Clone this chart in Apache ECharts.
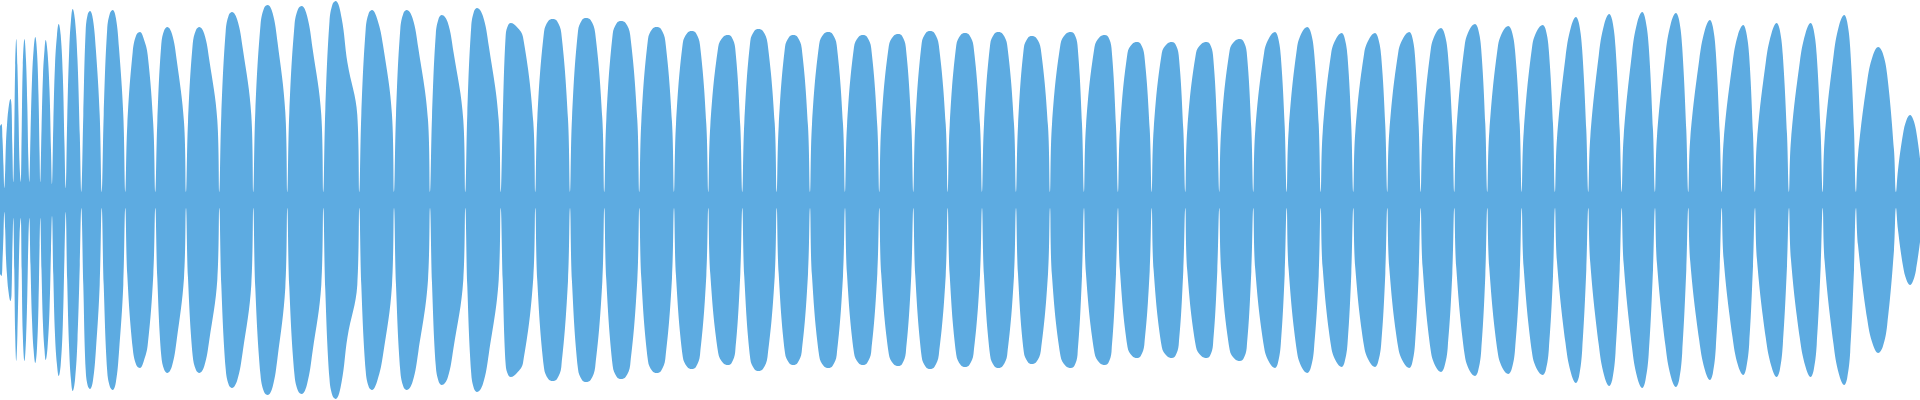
<!DOCTYPE html>
<html>
<head>
<meta charset="utf-8">
<script src="https://cdn.jsdelivr.net/npm/echarts@6/dist/echarts.min.js"></script>
<style>
html,body{margin:0;padding:0;background:#fff;}
#chart{width:1920px;height:400px;}
</style>
</head>
<body>
<div id="chart"></div>
<script>
// sample position (time index) of each envelope point
const sampleX = [
  0,1.5,2.5,3.5,
  4.3,5.2,6,7,8.3,10.5,11.5,12.3,
  13.3,14.3,15.2,16.3,17.4,18.5,19.6,
  20.7,21.7,22.8,24.5,26,27.3,28.4,
  29.3,30.5,32,33.6,35.3,37,38.5,39.6,
  40.3,41.5,43,44.5,45.7,47.5,49.5,51,
  52,53.3,55,57,58.7,60.7,62.8,64.5,
  65.7,67.2,69.2,71,72.7,75,77.5,79.8,
  81.3,83.3,85.7,87.8,90,92.9,95.9,99.7,
  101.7,103.7,107.2,110,112.7,115.9,119,123.3,
  125.3,127.3,132.7,136.3,140,143.8,147.7,153.3,
  155.3,157.3,161.3,164.3,167.3,172,176.7,184,
  186,188,192.7,196,199.3,204.3,209.3,217.3,
  219.3,221.3,225.7,228.8,232,237.3,242.7,251.3,
  253.3,255.3,260.5,264.1,267.7,272.6,277.5,285.3,
  287.3,289.3,294.5,298.1,301.7,307.1,312.5,321.3,
  323.3,325.3,329.5,332.6,335.7,341.6,347.5,357.3,
  359.3,361.3,365.7,368.8,372,377.5,383,392,
  394,396,400.3,403.5,406.7,412.5,418.3,428,
  430,432,435.8,438.8,441.7,447.6,453.5,463.3,
  465.3,467.3,471.2,474.1,477,482.9,488.8,498.7,
  500.7,502.7,505.7,508.2,510.7,516.9,523,533.3,
  535.3,537.3,544,548.3,552.7,557,561.3,568,
  570,572,578,582,586,590.6,595.2,602.3,
  604.3,606.3,612.7,616.8,621,625.6,630.2,637.3,
  639.3,641.3,648,652.3,656.7,661,665.3,672,
  674,676,682.8,687.3,691.7,695.9,700,706.3,
  708.3,710.3,718.2,723.1,728,731.6,735.2,740.3,
  742.3,744.3,750.3,754.3,758.3,762.9,767.5,774.7,
  776.7,778.7,785,789.1,793.3,797.5,801.7,808,
  810,812,819.2,823.7,828.3,832.5,836.7,843,
  845,847,854,858.5,863,867.1,871.2,877.3,
  879.3,881.3,888.8,893.5,898.3,902.1,905.8,911.3,
  913.3,915.3,921.7,925.8,930,934.4,938.8,945.7,
  947.7,949.7,956.3,960.7,965,969.3,973.5,980,
  982,984,990.2,994.2,998.3,1002.7,1007.2,1014,
  1016,1018,1023.8,1027.8,1031.7,1036.3,1040.8,1048,
  1050,1052,1060.5,1065.7,1071,1074.3,1077.5,1082,
  1084,1086,1094.5,1099.7,1105,1108.3,1111.5,1116,
  1118,1120,1127.5,1132.2,1137,1140.7,1144.3,1149.7,
  1151.7,1153.7,1161.8,1166.9,1172,1175.3,1178.7,1183.3,
  1185.3,1187.3,1196,1201.3,1206.7,1209.9,1213,1217.3,
  1219.3,1221.3,1229.7,1234.8,1240,1243.3,1246.7,1251.3,
  1253.3,1255.3,1264.2,1269.6,1275,1277.9,1280.8,1284.7,
  1286.7,1288.7,1297,1302.1,1307.3,1310.7,1314,1318.7,
  1320.7,1322.7,1331.2,1336.4,1341.7,1344.6,1347.5,1351.3,
  1353.3,1355.3,1364.2,1369.6,1375,1378.1,1381.2,1385.3,
  1387.3,1389.3,1398.3,1403.8,1409.3,1412.2,1415,1418.7,
  1420.7,1422.7,1430.8,1435.9,1441,1444.3,1447.7,1452.3,
  1454.3,1456.3,1464.7,1469.8,1475,1478.1,1481.2,1485.3,
  1487.3,1489.3,1497.8,1503,1508.3,1511.7,1515,1519.7,
  1521.7,1523.7,1532.2,1537.4,1542.7,1545.8,1548.8,1553,
  1555,1557,1565.5,1570.7,1576,1579.1,1582.2,1586.3,
  1588.3,1590.3,1598.8,1604,1609.3,1612.4,1615.5,1619.7,
  1621.7,1623.7,1632,1637.1,1642.3,1645.5,1648.7,1653,
  1655,1657,1665.5,1670.7,1676,1679.1,1682.2,1686.3,
  1688.3,1690.3,1699.2,1704.6,1710,1712.9,1715.8,1719.7,
  1721.7,1723.7,1732.5,1737.9,1743.3,1746.2,1749.2,1753,
  1755,1757,1765.8,1771.3,1776.7,1779.8,1782.8,1787,
  1789,1791,1799.8,1805.3,1810.7,1813.7,1816.7,1820.7,
  1822.7,1824.7,1833.5,1838.9,1844.3,1847.2,1850.2,1854,
  1856,1858,1867.2,1872.7,1878.3,1882.7,1887.2,1894,
  1896,1898,1903,1906.5,1910,1913,1916,1920
];
// envelope amplitude at each point (full scale = 200)
const envelope = [
  74,76,61,34,
  12,30,58,75,90,101,95,55,
  18,70,135,161,135,85,35,
  18,70,135,161,140,95,40,
  18,65,120,150,163,148,105,45,
  18,70,125,150,160,148,110,50,
  16,75,135,165,176,165,125,55,
  12,80,150,180,191,180,140,65,
  8,85,170,186,189,181,150,85,
  8,85,171,187,190,182,152,85,
  8,75,148,165,168,161,145,75,
  8,78,156,170,173,166,140,78,
  8,78,156,170,173,166,140,80,
  8,85,169,185,188,180,152,85,
  8,88,175,192,195,187,158,88,
  8,87,175,191,194,184,152,85,
  8,90,179,196,199,182,137,85,
  8,85,171,187,190,180,155,85,
  8,85,171,187,190,182,152,80,
  8,83,166,182,185,178,148,80,
  8,86,173,189,192,184,154,80,
  8,80,165,175,177,173,163,78,
  8,81,168,179,181,179,167,81,
  8,82,169,180,182,180,167,82,
  8,80,166,177,179,177,165,80,
  8,78,161,171,173,171,159,78,
  8,76,157,167,169,167,155,76,
  8,74,153,163,165,163,152,74,
  8,77,159,169,171,169,157,77,
  8,74,153,163,165,163,152,74,
  8,76,156,166,168,166,155,76,
  8,74,153,163,165,163,152,74,
  8,75,154,164,166,164,153,75,
  8,76,157,167,169,167,155,76,
  8,75,155,165,167,165,154,75,
  8,76,156,166,168,166,155,76,
  8,74,152,162,164,162,151,74,
  8,76,156,166,168,166,155,76,
  8,74,153,163,165,163,152,74,
  8,71,147,156,158,156,145,71,
  8,71,147,156,158,156,145,71,
  8,71,147,156,158,156,145,71,
  8,72,150,159,161,159,148,72,
  8,70,148,163,168,163,144,74,
  8,70,152,168,173,168,149,76,
  8,68,147,162,167,162,144,74,
  8,68,147,162,167,162,144,74,
  8,68,148,163,168,163,144,74,
  8,68,151,167,172,167,148,74,
  8,68,155,171,176,171,151,76,
  8,68,153,169,174,169,150,76,
  8,68,154,170,175,170,150,76,
  8,62,143,172,183,176,150,70,
  8,63,145,175,186,179,153,70,
  8,64,147,177,188,180,154,70,
  8,64,146,176,187,180,153,70,
  8,62,140,169,180,173,148,68,
  8,60,137,165,175,168,144,66,
  8,60,138,166,177,170,145,66,
  8,60,138,166,177,170,145,66,
  8,62,144,174,185,178,152,70,
  8,45,119,144,153,147,125,50,
  8,30,66,80,85,81,70,42
];

const COLOR = '#5dabe1';
const upper = sampleX.map((x, i) => [x, envelope[i]]);
const lower = sampleX.map((x, i) => [x, -envelope[i]]);

const chart = echarts.init(document.getElementById('chart'), null, {renderer: 'canvas'});
const common = {
  type: 'line',
  smooth: 0.4,
  symbol: 'none',
  silent: true,
  lineStyle: {width: 0, color: COLOR},
  areaStyle: {color: COLOR, opacity: 1},
  itemStyle: {color: COLOR}
};
chart.setOption({
  animation: false,
  backgroundColor: '#ffffff',
  grid: {left: 0, right: 0, top: 0, bottom: 0},
  xAxis: {type: 'value', min: 0, max: 1920, show: false},
  yAxis: {type: 'value', min: -200, max: 200, show: false},
  series: [
    Object.assign({name: 'upper', data: upper}, common),
    Object.assign({name: 'lower', data: lower}, common)
  ]
});
</script>
</body>
</html>
